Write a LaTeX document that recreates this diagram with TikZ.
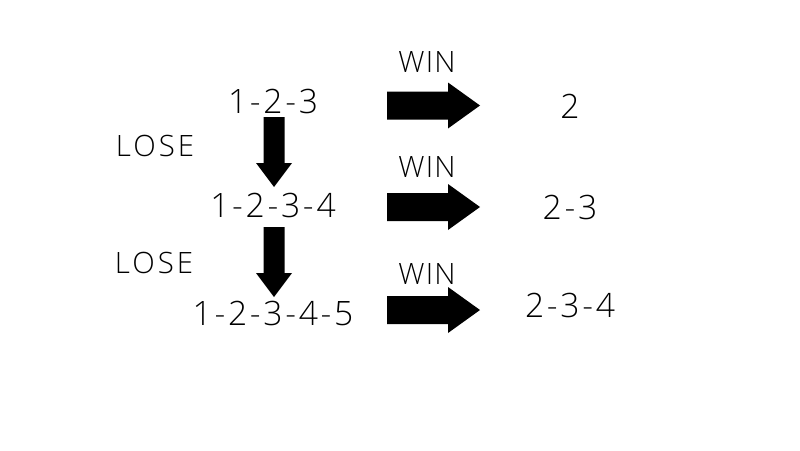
\documentclass[tikz,border=0pt]{standalone}
\usepackage{fontspec}
\setmainfont{Open Sans Light}
\begin{document}
\begin{tikzpicture}[x=1pt,y=-1pt,
  num/.style={font=\fontsize{33.6}{40}\selectfont\addfontfeatures{LetterSpace=8}, inner sep=0pt, anchor=center},
  lbl/.style={font=\fontsize{29.4}{35}\selectfont\addfontfeatures{LetterSpace=4}, inner sep=0pt, anchor=center},
  lose/.style={font=\fontsize{29.4}{35}\selectfont\addfontfeatures{LetterSpace=10}, inner sep=0pt, anchor=center},
  rarrow/.pic={\fill (0,-14) -- (61,-14) -- (61,-23) -- (93,0) -- (61,23) -- (61,14) -- (0,14) -- cycle;},
  darrow/.pic={\fill (-10.5,0) -- (-10.5,46) -- (-18,46) -- (0,70) -- (18,46) -- (10.5,46) -- (10.5,0) -- cycle;}]
\path[use as bounding box] (0,0) rectangle (800,450);
% left column
\node[num] (a1) at (273,101) {1-2-3};
\node[num] (a2) at (273,205) {1-2-3-4};
\node[num] (a3) at (273,313) {1-2-3-4-5};
% right column
\node[num] (b1) at (570,106) {2};
\node[num] (b2) at (570,207) {2-3};
\node[num] (b3) at (570,305) {2-3-4};
% labels
\node[lose] (l1) at (155,146) {LOSE};
\node[lose] (l2) at (154,263) {LOSE};
\node[lbl] (w1) at (427,62) {WIN};
\node[lbl] (w2) at (427,167) {WIN};
\node[lbl] (w3) at (427,274) {WIN};
% arrows
\pic at (387,105.5) {rarrow};
\pic at (387,207) {rarrow};
\pic at (387,310) {rarrow};
\pic at (274,117) {darrow};
\pic at (274,227) {darrow};
\end{tikzpicture}
\end{document}
